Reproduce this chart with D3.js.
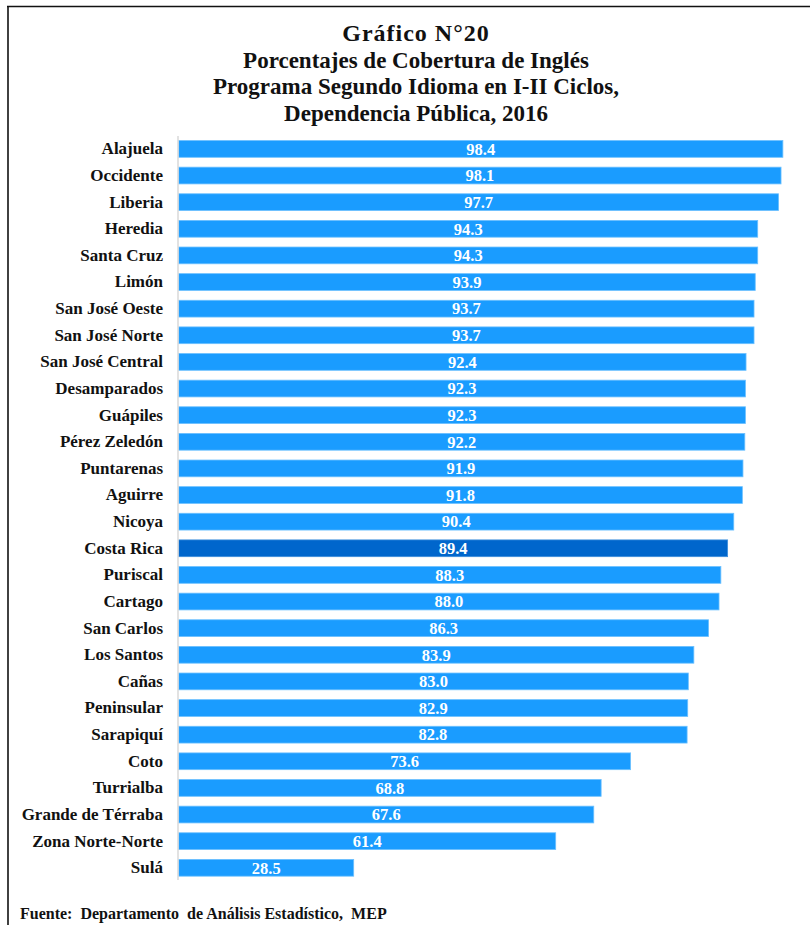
<!DOCTYPE html>
<html>
<head>
<meta charset="utf-8">
<script src="https://cdn.jsdelivr.net/npm/d3@7"></script>
<style>
  body { margin: 0; background: #fff; }
  svg { display: block; }
</style>
</head>
<body>
<div id="chart"></div>
<script>
// chart data
var regions = ["Alajuela", "Occidente", "Liberia", "Heredia", "Santa Cruz", "Limón",
  "San José Oeste", "San José Norte", "San José Central", "Desamparados", "Guápiles",
  "Pérez Zeledón", "Puntarenas", "Aguirre", "Nicoya", "Costa Rica", "Puriscal",
  "Cartago", "San Carlos", "Los Santos", "Cañas", "Peninsular", "Sarapiquí", "Coto",
  "Turrialba", "Grande de Térraba", "Zona Norte-Norte", "Sulá"];
var coverage = [98.4, 98.1, 97.7, 94.3, 94.3, 93.9, 93.7, 93.7, 92.4, 92.3, 92.3,
  92.2, 91.9, 91.8, 90.4, 89.4, 88.3, 88.0, 86.3, 83.9, 83.0, 82.9, 82.8, 73.6,
  68.8, 67.6, 61.4, 28.5];
var highlight = "Costa Rica";

var titleLines = ["Gráfico N°20", "Porcentajes de Cobertura de Inglés",
  "Programa Segundo Idioma en I-II Ciclos,", "Dependencia Pública, 2016"];
var source = "Fuente:  Departamento  de Análisis Estadístico,  MEP";

var W = 810, H = 925;
var serif = "'Liberation Serif', 'Times New Roman', serif";

var data = regions.map(function(r, i){ return {name: r, value: coverage[i]}; });

var svg = d3.select("#chart").append("svg")
  .attr("width", W)
  .attr("height", H);

// frame (top + left only)
svg.append("line").attr("x1", 7).attr("x2", W).attr("y1", 6.5).attr("y2", 6.5)
  .attr("stroke", "#111").attr("stroke-width", 1.6);
svg.append("line").attr("x1", 8).attr("x2", 8).attr("y1", 6).attr("y2", H)
  .attr("stroke", "#111").attr("stroke-width", 1.6);

// title
svg.append("g").selectAll("text")
  .data(titleLines)
  .join("text")
  .attr("x", 416)
  .attr("y", function(d, i){ return 41 + i * 26.5; })
  .attr("text-anchor", "middle")
  .attr("font-family", serif)
  .attr("font-weight", "bold")
  .attr("font-size", function(d, i){ return i == 0 ? 24 : 23; })
  .attr("letter-spacing", function(d, i){ return i == 0 ? 1 : 0; })
  .attr("fill", "#111")
  .text(function(d){ return d; });

var x = d3.scaleLinear()
  .domain([0, 100])
  .range([178.7, 792.7]);

var y = d3.scaleBand()
  .domain(regions)
  .range([135.6, 881.1])
  .paddingInner(0.37)
  .paddingOuter(0.185);

// bars
svg.append("g").selectAll("rect")
  .data(data)
  .join("rect")
  .attr("x", x(0))
  .attr("y", function(d){ return y(d.name); })
  .attr("width", function(d){ return x(d.value) - x(0); })
  .attr("height", y.bandwidth())
  .attr("fill", function(d){ return d.name == highlight ? "#0066cc" : "#1a9cff"; })
  .attr("stroke", function(d){ return d.name == highlight ? "#3f8fdc" : "#6cc0ff"; })
  .attr("stroke-width", 0.8);

// y axis (just the light line + category labels)
var yAxis = svg.append("g")
  .attr("transform", "translate(178,0)")
  .call(d3.axisLeft(y).tickSize(0).tickPadding(15));
yAxis.select(".domain")
  .attr("d", "M0,136V880")
  .attr("stroke", "#d9d9d9")
  .attr("stroke-width", 1.5);
yAxis.selectAll("text")
  .attr("font-family", serif)
  .attr("font-weight", "bold")
  .attr("font-size", 17)
  .attr("fill", "#111");

// value labels
svg.append("g").selectAll("text")
  .data(data)
  .join("text")
  .attr("x", function(d){ return (x(0) + x(d.value)) / 2; })
  .attr("y", function(d){ return y(d.name) + y.bandwidth() / 2; })
  .attr("dy", "0.35em")
  .attr("text-anchor", "middle")
  .attr("font-family", serif)
  .attr("font-weight", "bold")
  .attr("font-size", 16.5)
  .attr("fill", "#fff")
  .text(function(d){ return d.value.toFixed(1); });

// source
svg.append("text")
  .attr("x", 20)
  .attr("y", 919)
  .attr("font-family", serif)
  .attr("font-weight", "bold")
  .attr("font-size", 16)
  .attr("fill", "#111")
  .attr("xml:space", "preserve")
  .style("white-space", "pre")
  .text(source);
</script>
</body>
</html>
